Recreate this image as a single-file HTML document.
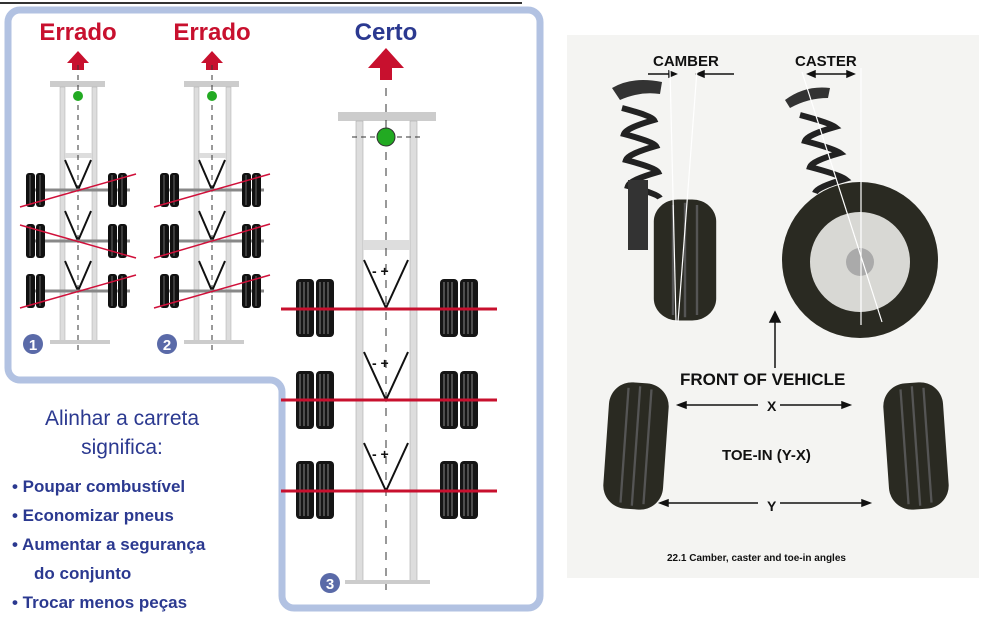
<!DOCTYPE html>
<html><head><style>
body{margin:0;background:#fff;width:1000px;height:619px;overflow:hidden;font-family:"Liberation Sans",sans-serif}
</style></head><body>
<svg width="1000" height="619" viewBox="0 0 1000 619" xmlns="http://www.w3.org/2000/svg">
<defs>
<g id="tw"><rect x="0" y="0" width="9" height="34" rx="3" fill="#111"/><rect x="10" y="0" width="9" height="34" rx="3" fill="#111"/><line x1="4" y1="2" x2="4" y2="32" stroke="#666"/><line x1="14" y1="2" x2="14" y2="32" stroke="#666"/></g>
<g id="tw3"><rect x="0" y="0" width="18" height="58" rx="4" fill="#151515"/><rect x="20" y="0" width="18" height="58" rx="4" fill="#151515"/><path d="M4 3v52M8 3v52M12 3v52M24 3v52M28 3v52M32 3v52" stroke="#888" stroke-width="1"/></g>
<g id="tire"><rect x="-26" y="-55" width="52" height="110" rx="20" fill="#2a2a22"/><path d="M-10 -50v100M0 -52v104M10 -50v100" stroke="#555" stroke-width="2"/></g>
</defs>
<line x1="0" y1="3" x2="522" y2="3" stroke="#333" stroke-width="2"/>
<!-- blue frame -->
<path d="M20 10 H528 a12 12 0 0 1 12 12 V596 a12 12 0 0 1 -12 12 H294 a12 12 0 0 1 -12 -12 V392 a12 12 0 0 0 -12 -12 H20 a12 12 0 0 1 -12 -12 V22 a12 12 0 0 1 12 -12Z" fill="#fff" stroke="#b2c2e2" stroke-width="7"/>
<g font-weight="bold" font-size="24" text-anchor="middle">
<text x="78" y="40" fill="#c8102e">Errado</text>
<text x="212" y="40" fill="#c8102e">Errado</text>
<text x="386" y="40" fill="#2b3990">Certo</text>
</g>
<g fill="#c8102e">
<path d="M72 70v-7h-5l11-12 11 12h-5v7z"/>
<path d="M206 70v-7h-5l11-12 11 12h-5v7z"/>
<path d="M380 80v-12h-12l18-20 18 20h-12v12z"/>
</g>
<!-- trailers 1,2 -->
<g id="t1">
<rect x="50" y="81" width="55" height="6" fill="#ccc"/>
<rect x="60" y="87" width="5" height="255" fill="#ddd" stroke="#aaa" stroke-width="0.5"/>
<rect x="92" y="87" width="5" height="255" fill="#ddd" stroke="#aaa" stroke-width="0.5"/>
<rect x="65" y="153" width="27" height="5" fill="#ddd"/>
<line x1="78" y1="65" x2="78" y2="355" stroke="#333" stroke-dasharray="5 5"/>
<circle cx="78" cy="96" r="5" fill="#2a2"/>
<path d="M65 160l13 30 13-30M65 211l13 30 13-30M65 261l13 30 13-30" fill="none" stroke="#111" stroke-width="2"/>
<g stroke="#888" stroke-width="3"><line x1="26" y1="190" x2="130" y2="190"/><line x1="26" y1="241" x2="130" y2="241"/><line x1="26" y1="291" x2="130" y2="291"/></g>
<use href="#tw" x="26" y="173"/><use href="#tw" x="108" y="173"/>
<use href="#tw" x="26" y="224"/><use href="#tw" x="108" y="224"/>
<use href="#tw" x="26" y="274"/><use href="#tw" x="108" y="274"/>
<rect x="50" y="340" width="60" height="4" fill="#ccc"/>
</g>
<g stroke="#d0103a" stroke-width="1.5">
<line x1="20" y1="207" x2="136" y2="174"/><line x1="20" y1="225" x2="136" y2="258"/><line x1="20" y1="308" x2="136" y2="275"/>
</g>
<use href="#t1" x="134"/>
<g stroke="#d0103a" stroke-width="1.5">
<line x1="154" y1="207" x2="270" y2="174"/><line x1="154" y1="258" x2="270" y2="224"/><line x1="154" y1="308" x2="270" y2="275"/>
</g>
<circle cx="33" cy="344" r="10" fill="#5a6aa8"/><text x="33" y="350" font-size="15" font-weight="bold" fill="#fff" text-anchor="middle">1</text>
<circle cx="167" cy="344" r="10" fill="#5a6aa8"/><text x="167" y="350" font-size="15" font-weight="bold" fill="#fff" text-anchor="middle">2</text>
<!-- trailer 3 -->
<rect x="338" y="112" width="98" height="9" fill="#ccc"/>
<rect x="356" y="121" width="7" height="460" fill="#ddd" stroke="#aaa" stroke-width="0.6"/>
<rect x="410" y="121" width="7" height="460" fill="#ddd" stroke="#aaa" stroke-width="0.6"/>
<rect x="363" y="240" width="47" height="10" fill="#ddd"/>
<line x1="386" y1="88" x2="386" y2="590" stroke="#333" stroke-dasharray="8 8"/>
<line x1="352" y1="137" x2="420" y2="137" stroke="#333" stroke-dasharray="5 4"/>
<circle cx="386" cy="137" r="9" fill="#2a2" stroke="#333"/>
<path d="M364 260l22 48 22-48M364 352l22 48 22-48M364 443l22 48 22-48" fill="none" stroke="#111" stroke-width="2"/>
<g font-size="14" font-weight="bold" fill="#111"><text x="372" y="276">- +</text><text x="372" y="368">- +</text><text x="372" y="459">- +</text></g>
<use href="#tw3" x="296" y="279"/><use href="#tw3" x="440" y="279"/>
<use href="#tw3" x="296" y="371"/><use href="#tw3" x="440" y="371"/>
<use href="#tw3" x="296" y="461"/><use href="#tw3" x="440" y="461"/>
<g stroke="#c8102e" stroke-width="3"><line x1="281" y1="309" x2="497" y2="309"/><line x1="281" y1="400" x2="497" y2="400"/><line x1="281" y1="491" x2="497" y2="491"/></g>
<rect x="345" y="580" width="85" height="4" fill="#ccc"/>
<circle cx="330" cy="583" r="10" fill="#5a6aa8"/><text x="330" y="589" font-size="15" font-weight="bold" fill="#fff" text-anchor="middle">3</text>
<!-- text -->
<g fill="#2b3990" font-family="Liberation Sans, sans-serif">
<text x="122" y="425" font-size="21" text-anchor="middle">Alinhar a carreta</text>
<text x="122" y="454" font-size="21" text-anchor="middle">significa:</text>
<g font-size="17" font-weight="bold">
<text x="12" y="492">• Poupar combustível</text>
<text x="12" y="521">• Economizar pneus</text>
<text x="12" y="550">• Aumentar a segurança</text>
<text x="34" y="579">do conjunto</text>
<text x="12" y="608">• Trocar menos peças</text>
</g></g>
<!-- right panel -->
<rect x="567" y="35" width="412" height="543" fill="#f4f4f2"/>
<g font-weight="bold" fill="#111">
<text x="653" y="66" font-size="15">CAMBER</text>
<text x="795" y="66" font-size="15">CASTER</text>
<text x="680" y="385" font-size="17">FRONT OF VEHICLE</text>
<text x="722" y="460" font-size="15">TOE-IN (Y-X)</text>
<text x="767" y="411" font-size="14">X</text>
<text x="767" y="511" font-size="14">Y</text>
<text x="667" y="561" font-size="10">22.1  Camber, caster and toe-in angles</text>
</g>
<g stroke="#111" stroke-width="1.5" fill="#111">
<line x1="648" y1="74" x2="674" y2="74"/><path d="M676 74l-7-3v6z"/>
<line x1="700" y1="74" x2="734" y2="74"/><path d="M697 74l7-3v6z"/>
<line x1="812" y1="74" x2="850" y2="74"/><path d="M808 74l7-3v6zM854 74l-7-3v6z"/>
<line x1="775" y1="368" x2="775" y2="318"/><path d="M775 312l-5 10h10z"/>
<line x1="684" y1="405" x2="758" y2="405"/><line x1="780" y1="405" x2="845" y2="405"/><path d="M678 405l8-3v6zM850 405l-8-3v6z"/>
<line x1="666" y1="503" x2="758" y2="503"/><line x1="780" y1="503" x2="863" y2="503"/><path d="M660 503l8-3v6zM870 503l-8-3v6z"/>
</g>
<!-- strut left -->
<path d="M612 88q20-12 50-6l-2 12q-20-3-40 6z" fill="#333"/>
<g fill="none" stroke="#222" stroke-width="6"><path d="M622 108q30 8 32 12-28 8-30 14 30 8 32 12-28 8-30 14 30 8 32 12-28 8-30 14 30 8 32 12"/></g>
<rect x="628" y="180" width="20" height="70" fill="#333"/>
<use href="#tire" transform="translate(685,260)scale(1.2,1.1)"/>
<g stroke="#fff" stroke-width="1.2"><line x1="670" y1="70" x2="676" y2="322"/><line x1="697" y1="70" x2="678" y2="322"/></g>
<!-- strut right -->
<path d="M785 100q20-15 45-12l-2 10q-20 0-38 10z" fill="#333"/>
<g fill="none" stroke="#222" stroke-width="6"><path d="M800 115q30 8 35 12-28 8-30 14 30 8 35 12-28 8-30 14 30 8 35 12-28 8-30 14"/></g>
<circle cx="860" cy="260" r="78" fill="#2a2a22"/>
<circle cx="860" cy="262" r="50" fill="#d8d8d4"/>
<circle cx="860" cy="262" r="14" fill="#aaa"/>
<g stroke="#fff" stroke-width="1.2"><line x1="861" y1="68" x2="861" y2="325"/><line x1="802" y1="72" x2="882" y2="322"/></g>
<use href="#tire" transform="translate(636,446)rotate(4)scale(1.15,1.15)"/>
<use href="#tire" transform="translate(916,446)rotate(-4)scale(1.15,1.15)"/>
</svg>
</body></html>
